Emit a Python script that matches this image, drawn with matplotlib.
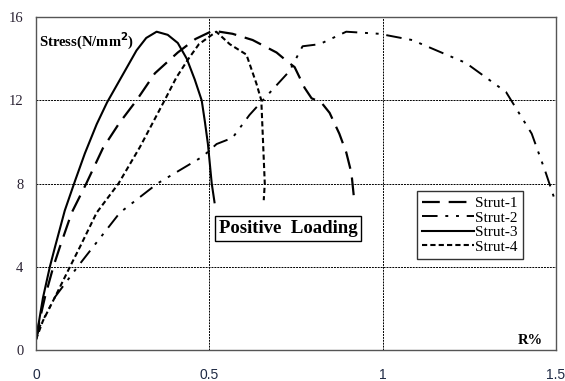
import matplotlib
matplotlib.use("Agg")
import matplotlib.pyplot as plt

# strut-1 (long dash)
s1_x = [0.0, 0.01, 0.026, 0.05, 0.069, 0.103, 0.145, 0.193, 0.24, 0.29, 0.343, 0.409, 0.46,
        0.51, 0.567, 0.625, 0.694, 0.73, 0.746, 0.775, 0.795, 0.823, 0.847, 0.875, 0.895,
        0.91, 0.918]
s1_y = [0.5, 1.4, 2.55, 4.0, 4.96, 6.6, 8.0, 9.7, 10.9, 12.0, 13.3, 14.3, 14.95,
        15.35, 15.2, 14.9, 14.3, 13.8, 13.6, 12.6, 12.1, 11.9, 11.4, 10.4, 9.5,
        8.5, 7.2]

# strut-2 (dash dot dot)
s2_x = [0.0, 0.01, 0.055, 0.12, 0.165, 0.242, 0.35, 0.481, 0.521, 0.567, 0.616, 0.665, 0.731,
        0.769, 0.818, 0.895, 0.99, 1.085, 1.24, 1.356, 1.43, 1.471, 1.497]
s2_y = [0.5, 1.1, 2.55, 4.0, 4.96, 6.6, 8.0, 9.3, 9.9, 10.2, 11.3, 12.2, 13.4,
        14.6, 14.7, 15.3, 15.2, 14.9, 13.8, 12.4, 10.4, 8.5, 7.2]

# strut-3 (solid)
s3_x = [0.0, 0.01, 0.02, 0.04, 0.055, 0.083, 0.112, 0.141, 0.175, 0.205, 0.256, 0.29, 0.318,
        0.348, 0.38, 0.409, 0.435, 0.458, 0.478, 0.487, 0.496, 0.507, 0.515]
s3_y = [0.5, 1.5, 2.5, 4.0, 4.96, 6.7, 8.1, 9.45, 10.85, 11.9, 13.4, 14.4, 15.0,
        15.3, 15.15, 14.76, 14.0, 13.0, 12.0, 11.0, 9.9, 8.0, 7.1]

# strut-4 (fine dash)
s4_x = [0.0, 0.02, 0.055, 0.098, 0.127, 0.175, 0.238, 0.30, 0.371, 0.405, 0.44, 0.47, 0.52,
        0.559, 0.607, 0.636, 0.65, 0.654, 0.66, 0.657]
s4_y = [0.5, 1.4, 2.55, 4.0, 4.96, 6.6, 8.0, 9.76, 12.0, 13.1, 14.0, 14.7, 15.3,
        14.7, 14.2, 12.8, 12.0, 10.4, 8.0, 7.2]

x_ticks = [0, 0.5, 1, 1.5]
x_tick_labels = ["0", "0.5", "1", "1.5"]
y_ticks = [0, 4, 8, 12, 16]

fig = plt.figure(figsize=(5.65, 3.81), dpi=100)
ax = fig.add_axes([0.0637, 0.0814, 0.9203, 0.8736])

ax.plot(s1_x, s1_y, color="black", lw=1.6, dashes=(8, 4), label="Strut-1")
ax.plot(s2_x, s2_y, color="black", lw=1.4, dashes=(8, 4, 1.5, 4, 1.5, 4), label="Strut-2")
ax.plot(s3_x, s3_y, color="black", lw=1.5, label="Strut-3")
ax.plot(s4_x, s4_y, color="black", lw=1.5, dashes=(2.5, 1.5), label="Strut-4")

ax.set_xlim(0, 1.5)
ax.set_ylim(0, 16)
ax.set_xticks(x_ticks)
ax.set_xticklabels(x_tick_labels, family="Liberation Sans", fontsize=10, color="#1f2a44")
ax.set_yticks(y_ticks)
ax.set_yticklabels([str(v) for v in y_ticks], family="Liberation Serif", fontsize=10.5, color="#2a2233")
ax.tick_params(axis="x", length=0, pad=13)
ax.tick_params(axis="y", length=0, pad=9)
ax.grid(True, color="black", lw=0.7, ls=(0, (2, 1)))
for sp in ax.spines.values():
    sp.set_color("#555555")
    sp.set_linewidth(1.0)

ax.text(0.005, 0.96, "Stress(N/mm$^\\mathbf{2}$)", transform=ax.transAxes,
        family="Liberation Serif", fontweight="bold", fontsize=10.5, va="top", ha="left")
ax.text(0.975, 0.01, "R%", transform=ax.transAxes, family="Liberation Serif",
        fontweight="bold", fontsize=10.5, va="bottom", ha="right")
ax.text(0.527, 5.85, "Positive  Loading", family="Liberation Serif", fontweight="bold",
        fontsize=13.5, va="center", ha="left",
        bbox=dict(boxstyle="square,pad=0.2", fc="white", ec="black", lw=1.0))

leg = ax.legend(loc="upper left", bbox_to_anchor=(0.732, 0.477), frameon=True, fancybox=False,
                prop={"family": "Liberation Serif", "size": 11}, handlelength=3.4,
                handletextpad=0.1, labelspacing=0.05, borderpad=0.35, borderaxespad=0)
leg.get_frame().set_edgecolor("black")
leg.get_frame().set_linewidth(1.0)

fig.savefig("out.png", dpi=100)
